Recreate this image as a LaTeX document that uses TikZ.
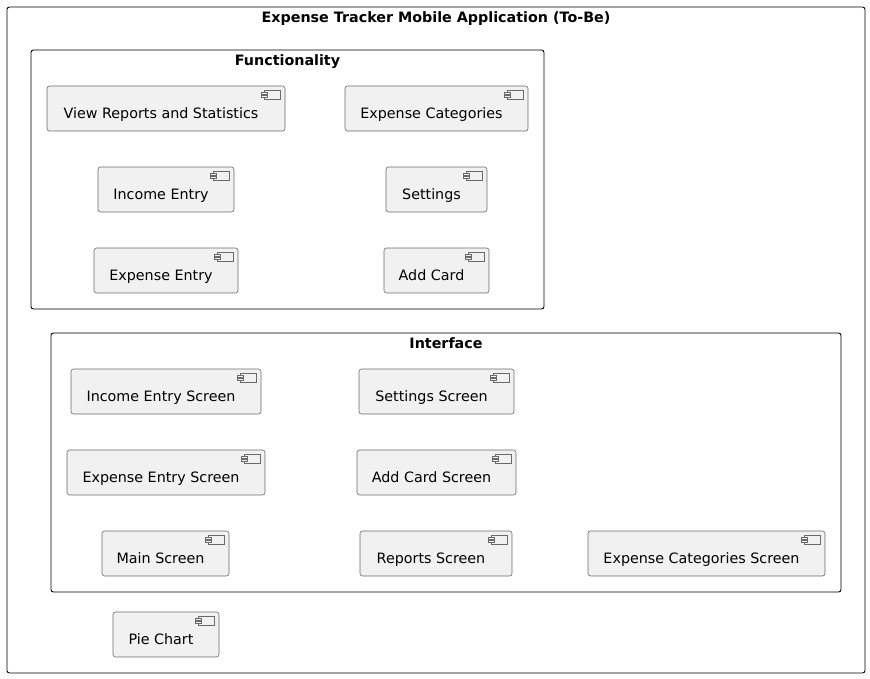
\documentclass[tikz,border=0pt]{standalone}
\usepackage{fontspec}
\setmainfont{DejaVu Sans}
\definecolor{compfill}{HTML}{F1F1F1}
\definecolor{compline}{HTML}{6A6A6A}

\begin{document}
\begin{tikzpicture}[x=1pt, y=-1pt,
    comp/.style={draw=compline, fill=compfill, rounded corners=2.5pt, line width=0.6pt,
        minimum height=45pt, text height=19pt, text depth=0pt, inner sep=0pt,
        font=\fontsize{14.3}{17}\selectfont, execute at end node=\hspace{10pt},
        path picture={
            \draw[sharp corners, draw=compline, line width=0.5pt, fill=compfill]
                ([shift={(-21pt,-4pt)}]path picture bounding box.north east) rectangle ++(16pt,-9pt);
            \draw[sharp corners, draw=compline, line width=0.5pt, fill=compfill]
                ([shift={(-24pt,-6pt)}]path picture bounding box.north east) rectangle ++(6pt,-2pt);
            \draw[sharp corners, draw=compline, line width=0.5pt, fill=compfill]
                ([shift={(-24pt,-9.5pt)}]path picture bounding box.north east) rectangle ++(6pt,-2pt);
        }},
    frame/.style={draw=black, rounded corners=2.5pt, line width=0.9pt, inner sep=0pt},
    ftitle/.style={font=\bfseries\fontsize{14.3}{17}\selectfont, text height=10pt, text depth=0pt, inner sep=0pt}]

    \useasboundingbox (0,0) rectangle (870,678);

    % frames
    \node[frame, minimum width=858, minimum height=666] (app) at (436,340) {};
    \node[ftitle] (apptitle) at (436,17.5) {Expense Tracker Mobile Application (To-Be)};

    \node[frame, minimum width=513, minimum height=259] (func) at (287.5,179.5) {};
    \node[ftitle] (functitle) at (287.5,60.5) {Functionality};

    \node[frame, minimum width=790, minimum height=259] (intf) at (446,462.5) {};
    \node[ftitle] (intftitle) at (446,343.5) {Interface};

    % functionality
    \node[comp, minimum width=238] (viewrep) at (166,108.5) {View Reports and Statistics};
    \node[comp, minimum width=183] (expcat) at (436.5,108.5) {Expense Categories};
    \node[comp, minimum width=136] (income) at (166,189.5) {Income Entry};
    \node[comp, minimum width=101] (settings) at (436.5,189.5) {Settings};
    \node[comp, minimum width=144] (expense) at (166,270.5) {Expense Entry};
    \node[comp, minimum width=105] (addcard) at (436.5,270.5) {Add Card};

    % interface
    \node[comp, minimum width=190] (incscr) at (166,391.5) {Income Entry Screen};
    \node[comp, minimum width=155] (setscr) at (436.5,391.5) {Settings Screen};
    \node[comp, minimum width=198] (expscr) at (166,472.5) {Expense Entry Screen};
    \node[comp, minimum width=159] (addscr) at (436.5,472.5) {Add Card Screen};
    \node[comp, minimum width=127] (mainscr) at (165.5,553.5) {Main Screen};
    \node[comp, minimum width=152] (repscr) at (436,553.5) {Reports Screen};
    \node[comp, minimum width=237] (catscr) at (706.5,553.5) {Expense Categories Screen};

    \node[comp, minimum width=106] (piechart) at (166,634.5) {Pie Chart};
\end{tikzpicture}
\end{document}
